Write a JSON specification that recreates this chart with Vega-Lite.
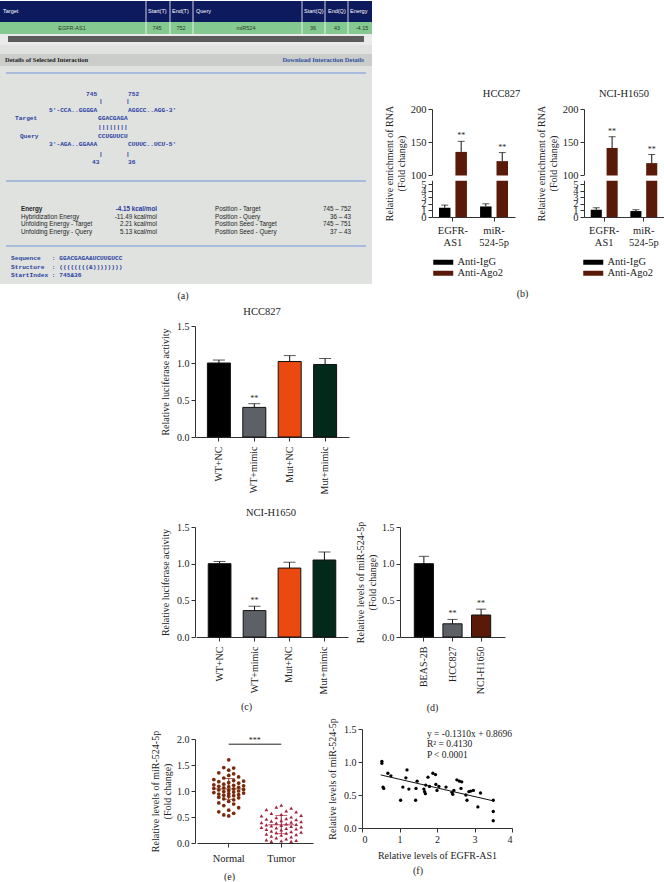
{
"$schema": "https://vega.github.io/schema/vega-lite/v6.json",
"padding": 0,
"background": "white",
"columns": 8,
"align": "each",
"bounds": "flush",
"spacing": 0,
"resolve": {"scale": {"color": "independent", "shape": "independent", "xOffset": "independent"}},
"config": {
  "view": {"stroke": null},
  "font": "Liberation Serif",
  "axis": {"labelFont": "Liberation Serif", "titleFont": "Liberation Serif", "labelFontSize": 10, "titleFontSize": 10, "titleFontWeight": "normal", "labelColor": "#222", "titleColor": "#222", "domainColor": "#333", "tickColor": "#333", "grid": false, "tickSize": 4},
  "title": {"font": "Liberation Serif", "fontSize": 10.5, "fontWeight": "normal", "color": "#222"},
  "legend": {"labelFont": "Liberation Serif", "labelFontSize": 10.5, "labelColor": "#222"}
},
"datasets": {
  "arect": [
    {"k": "bg", "x": 0, "x2": 372, "y": 0, "y2": 283},
    {"k": "hdr", "x": 0, "x2": 372, "y": 0, "y2": 21},
    {"k": "grn", "x": 0, "x2": 372, "y": 21, "y2": 33},
    {"k": "trk", "x": 0, "x2": 372, "y": 33, "y2": 44},
    {"k": "bar", "x": 8, "x2": 364, "y": 35, "y2": 41},
    {"k": "det", "x": 0, "x2": 372, "y": 53, "y2": 65}
  ],
  "ablue": [
    {"x": 6, "x2": 366, "y": 72, "y2": 72},
    {"x": 6, "x2": 366, "y": 180, "y2": 180},
    {"x": 6, "x2": 366, "y": 245, "y2": 245}
  ],
  "awhite": [
    {"x": 146, "x2": 146, "y": 0, "y2": 33},
    {"x": 170, "x2": 170, "y": 0, "y2": 33},
    {"x": 193, "x2": 193, "y": 0, "y2": 33},
    {"x": 302, "x2": 302, "y": 0, "y2": 33},
    {"x": 325, "x2": 325, "y": 0, "y2": 33},
    {"x": 348, "x2": 348, "y": 0, "y2": 33}
  ],
  "atext": [
    {"k": "hd", "t": "Target", "x": 3, "y": 10},
    {"k": "hd", "t": "Start(T)", "x": 148, "y": 10},
    {"k": "hd", "t": "End(T)", "x": 172, "y": 10},
    {"k": "hd", "t": "Query", "x": 196, "y": 10},
    {"k": "hd", "t": "Start(Q)", "x": 304, "y": 10},
    {"k": "hd", "t": "End(Q)", "x": 328, "y": 10},
    {"k": "hd", "t": "Energy", "x": 350, "y": 10},
    {"k": "rw", "t": "EGFR-AS1", "x": 72, "y": 27},
    {"k": "rw", "t": "745", "x": 157, "y": 27},
    {"k": "rw", "t": "752", "x": 181, "y": 27},
    {"k": "rw", "t": "miR524", "x": 246, "y": 27},
    {"k": "rw", "t": "36", "x": 313, "y": 27},
    {"k": "rw", "t": "43", "x": 337, "y": 27},
    {"k": "rw", "t": "-4.15", "x": 362, "y": 27},
    {"k": "dt", "t": "Details of Selected Interaction", "x": 5, "y": 59},
    {"k": "dl", "t": "Download Interaction Details", "x": 364, "y": 59},
    {"k": "mo", "t": "745", "x": 86, "y": 93},
    {"k": "mo", "t": "752", "x": 128, "y": 93},
    {"k": "mo", "t": "|", "x": 99, "y": 100},
    {"k": "mo", "t": "|", "x": 126, "y": 100},
    {"k": "mo", "t": "5'-CCA..GGGGA", "x": 49, "y": 109},
    {"k": "mo", "t": "AGGCC..AGG-3'", "x": 128, "y": 109},
    {"k": "mo", "t": "Target", "x": 15, "y": 117},
    {"k": "mo", "t": "GGACGAGA", "x": 98, "y": 117},
    {"k": "mo", "t": "||||||||", "x": 98, "y": 126},
    {"k": "mo", "t": "Query", "x": 20, "y": 135},
    {"k": "mo", "t": "CCUGUUCU", "x": 98, "y": 135},
    {"k": "mo", "t": "3'-AGA..GGAAA", "x": 49, "y": 143},
    {"k": "mo", "t": "CUUUC..UCU-5'", "x": 128, "y": 143},
    {"k": "mo", "t": "|", "x": 99, "y": 153},
    {"k": "mo", "t": "|", "x": 126, "y": 153},
    {"k": "mo", "t": "43", "x": 92, "y": 161},
    {"k": "mo", "t": "36", "x": 128, "y": 161},
    {"k": "mo", "t": "Sequence\u00a0\u00a0\u00a0: GGACGAGA&UCUUGUCC", "x": 11, "y": 257},
    {"k": "mo", "t": "Structure\u00a0\u00a0: ((((((((&))))))))", "x": 11, "y": 266},
    {"k": "mo", "t": "StartIndex : 745&36", "x": 11, "y": 274},
    {"k": "tlb", "t": "Energy", "x": 21, "y": 208},
    {"k": "tl", "t": "Hybridization Energy", "x": 21, "y": 216},
    {"k": "tl", "t": "Unfolding Energy - Target", "x": 21, "y": 223},
    {"k": "tl", "t": "Unfolding Energy - Query", "x": 21, "y": 231},
    {"k": "tl", "t": "Position - Target", "x": 215, "y": 208},
    {"k": "tl", "t": "Position - Query", "x": 215, "y": 216},
    {"k": "tl", "t": "Position Seed - Target", "x": 215, "y": 223},
    {"k": "tl", "t": "Position Seed - Query", "x": 215, "y": 231},
    {"k": "trb", "t": "-4.15 kcal/mol", "x": 157, "y": 208},
    {"k": "tr", "t": "-11.49 kcal/mol", "x": 157, "y": 216},
    {"k": "tr", "t": "2.21 kcal/mol", "x": 157, "y": 223},
    {"k": "tr", "t": "5.13 kcal/mol", "x": 157, "y": 231},
    {"k": "tr", "t": "745 – 752", "x": 351, "y": 208},
    {"k": "tr", "t": "36 – 43", "x": 351, "y": 216},
    {"k": "tr", "t": "745 – 751", "x": 351, "y": 223},
    {"k": "tr", "t": "37 – 43", "x": 351, "y": 231},
    {"k": "lab", "t": "(a)", "x": 183, "y": 295}
  ],
  "bh": [
    {"t": "EGFR-AS1", "ab": "Anti-IgG", "m": 1.4, "e": 1.8, "s": ""},
    {"t": "EGFR-AS1", "ab": "Anti-Ago2", "m": 135, "e": 151, "s": "**"},
    {"t": "miR-524-5p", "ab": "Anti-IgG", "m": 1.6, "e": 2.0, "s": ""},
    {"t": "miR-524-5p", "ab": "Anti-Ago2", "m": 121, "e": 134, "s": "**"}
  ],
  "bn": [
    {"t": "EGFR-AS1", "ab": "Anti-IgG", "m": 1.1, "e": 1.4, "s": ""},
    {"t": "EGFR-AS1", "ab": "Anti-Ago2", "m": 141, "e": 158, "s": "**"},
    {"t": "miR-524-5p", "ab": "Anti-IgG", "m": 0.9, "e": 1.1, "s": ""},
    {"t": "miR-524-5p", "ab": "Anti-Ago2", "m": 118, "e": 131, "s": "**"}
  ],
  "brk": [{"lo": 40, "hi": 95}],
  "ch": [
    {"g": "WT+NC", "m": 1.0, "e": 1.04, "s": ""},
    {"g": "WT+mimic", "m": 0.40, "e": 0.45, "s": "**"},
    {"g": "Mut+NC", "m": 1.02, "e": 1.10, "s": ""},
    {"g": "Mut+mimic", "m": 0.98, "e": 1.06, "s": ""}
  ],
  "cn": [
    {"g": "WT+NC", "m": 1.0, "e": 1.03, "s": ""},
    {"g": "WT+mimic", "m": 0.36, "e": 0.42, "s": "**"},
    {"g": "Mut+NC", "m": 0.94, "e": 1.02, "s": ""},
    {"g": "Mut+mimic", "m": 1.05, "e": 1.16, "s": ""}
  ],
  "dd": [
    {"g": "BEAS-2B", "m": 1.0, "e": 1.1, "s": ""},
    {"g": "HCC827", "m": 0.18, "e": 0.24, "s": "**"},
    {"g": "NCI-H1650", "m": 0.30, "e": 0.38, "s": "**"}
  ],
  "ep": [
    {"g": "Normal", "v": 1.60, "k": 0}, {"g": "Normal", "v": 1.45, "k": -1}, {"g": "Normal", "v": 1.44, "k": 1},
    {"g": "Normal", "v": 1.40, "k": 0}, {"g": "Normal", "v": 1.35, "k": -2}, {"g": "Normal", "v": 1.33, "k": 1},
    {"g": "Normal", "v": 1.30, "k": 0}, {"g": "Normal", "v": 1.27, "k": 2}, {"g": "Normal", "v": 1.25, "k": -1},
    {"g": "Normal", "v": 1.22, "k": -3}, {"g": "Normal", "v": 1.20, "k": 1}, {"g": "Normal", "v": 1.19, "k": 3},
    {"g": "Normal", "v": 1.18, "k": -2}, {"g": "Normal", "v": 1.16, "k": 0}, {"g": "Normal", "v": 1.15, "k": 2},
    {"g": "Normal", "v": 1.13, "k": -1}, {"g": "Normal", "v": 1.12, "k": -3}, {"g": "Normal", "v": 1.11, "k": 1},
    {"g": "Normal", "v": 1.10, "k": 3}, {"g": "Normal", "v": 1.09, "k": -2}, {"g": "Normal", "v": 1.08, "k": 0},
    {"g": "Normal", "v": 1.07, "k": 2}, {"g": "Normal", "v": 1.06, "k": -1}, {"g": "Normal", "v": 1.05, "k": -3},
    {"g": "Normal", "v": 1.04, "k": 1}, {"g": "Normal", "v": 1.03, "k": 3}, {"g": "Normal", "v": 1.02, "k": -2},
    {"g": "Normal", "v": 1.01, "k": 0}, {"g": "Normal", "v": 1.00, "k": 2}, {"g": "Normal", "v": 0.99, "k": -1},
    {"g": "Normal", "v": 0.98, "k": 1}, {"g": "Normal", "v": 0.97, "k": -3}, {"g": "Normal", "v": 0.96, "k": 3},
    {"g": "Normal", "v": 0.95, "k": 0}, {"g": "Normal", "v": 0.94, "k": -2}, {"g": "Normal", "v": 0.93, "k": 2},
    {"g": "Normal", "v": 0.92, "k": -1}, {"g": "Normal", "v": 0.91, "k": 1}, {"g": "Normal", "v": 0.90, "k": 0},
    {"g": "Normal", "v": 0.88, "k": -2}, {"g": "Normal", "v": 0.87, "k": 2}, {"g": "Normal", "v": 0.85, "k": -1},
    {"g": "Normal", "v": 0.83, "k": 1}, {"g": "Normal", "v": 0.80, "k": 0}, {"g": "Normal", "v": 0.77, "k": -2},
    {"g": "Normal", "v": 0.75, "k": 1}, {"g": "Normal", "v": 0.72, "k": -1}, {"g": "Normal", "v": 0.68, "k": 2},
    {"g": "Normal", "v": 0.63, "k": 0}, {"g": "Normal", "v": 0.60, "k": -2}, {"g": "Normal", "v": 0.57, "k": 1},
    {"g": "Normal", "v": 0.54, "k": -1}, {"g": "Normal", "v": 0.52, "k": 0},
    {"g": "Tumor", "v": 0.73, "k": 0}, {"g": "Tumor", "v": 0.69, "k": -1}, {"g": "Tumor", "v": 0.67, "k": 2},
    {"g": "Tumor", "v": 0.64, "k": -3}, {"g": "Tumor", "v": 0.62, "k": 1}, {"g": "Tumor", "v": 0.60, "k": 3},
    {"g": "Tumor", "v": 0.57, "k": -2}, {"g": "Tumor", "v": 0.55, "k": 0}, {"g": "Tumor", "v": 0.53, "k": 4},
    {"g": "Tumor", "v": 0.52, "k": -4}, {"g": "Tumor", "v": 0.50, "k": 2}, {"g": "Tumor", "v": 0.49, "k": -1},
    {"g": "Tumor", "v": 0.47, "k": 1}, {"g": "Tumor", "v": 0.46, "k": -3}, {"g": "Tumor", "v": 0.45, "k": 3},
    {"g": "Tumor", "v": 0.43, "k": 0}, {"g": "Tumor", "v": 0.42, "k": -2}, {"g": "Tumor", "v": 0.41, "k": 4},
    {"g": "Tumor", "v": 0.40, "k": 2}, {"g": "Tumor", "v": 0.39, "k": -4}, {"g": "Tumor", "v": 0.38, "k": -1},
    {"g": "Tumor", "v": 0.37, "k": 1}, {"g": "Tumor", "v": 0.36, "k": 3}, {"g": "Tumor", "v": 0.35, "k": -3},
    {"g": "Tumor", "v": 0.34, "k": 0}, {"g": "Tumor", "v": 0.33, "k": -2}, {"g": "Tumor", "v": 0.32, "k": 2},
    {"g": "Tumor", "v": 0.31, "k": 4}, {"g": "Tumor", "v": 0.30, "k": -4}, {"g": "Tumor", "v": 0.29, "k": -1},
    {"g": "Tumor", "v": 0.28, "k": 1}, {"g": "Tumor", "v": 0.27, "k": 3}, {"g": "Tumor", "v": 0.26, "k": -3},
    {"g": "Tumor", "v": 0.25, "k": 0}, {"g": "Tumor", "v": 0.23, "k": -2}, {"g": "Tumor", "v": 0.22, "k": 2},
    {"g": "Tumor", "v": 0.21, "k": 4}, {"g": "Tumor", "v": 0.20, "k": -1}, {"g": "Tumor", "v": 0.19, "k": 1},
    {"g": "Tumor", "v": 0.17, "k": -3}, {"g": "Tumor", "v": 0.16, "k": 3}, {"g": "Tumor", "v": 0.15, "k": 0},
    {"g": "Tumor", "v": 0.13, "k": -2}, {"g": "Tumor", "v": 0.12, "k": 2}, {"g": "Tumor", "v": 0.10, "k": -1},
    {"g": "Tumor", "v": 0.08, "k": 1}, {"g": "Tumor", "v": 0.06, "k": -3}, {"g": "Tumor", "v": 0.05, "k": 3},
    {"g": "Tumor", "v": 0.04, "k": 0}, {"g": "Tumor", "v": 0.03, "k": -2}, {"g": "Tumor", "v": 0.03, "k": 2}
  ],
  "es": [
    {"g": "Normal", "m": 1.04, "lo": 0.84, "hi": 1.24},
    {"g": "Tumor", "m": 0.35, "lo": 0.18, "hi": 0.53}
  ],
  "esig": [{"a": "Normal", "b": "Tumor", "y": 1.9, "ty": 1.96, "t": "***"}],
  "fp": [
    {"x": 0.53, "y": 1.01}, {"x": 0.53, "y": 0.98}, {"x": 0.56, "y": 0.62}, {"x": 0.58, "y": 0.60},
    {"x": 0.69, "y": 0.83}, {"x": 0.77, "y": 0.79}, {"x": 1.03, "y": 0.42}, {"x": 1.09, "y": 0.62},
    {"x": 1.17, "y": 0.76}, {"x": 1.20, "y": 0.88}, {"x": 1.25, "y": 0.59}, {"x": 1.43, "y": 0.42},
    {"x": 1.44, "y": 0.60}, {"x": 1.47, "y": 0.71}, {"x": 1.65, "y": 0.59}, {"x": 1.67, "y": 0.55},
    {"x": 1.69, "y": 0.52}, {"x": 1.70, "y": 0.65}, {"x": 1.76, "y": 0.77}, {"x": 1.80, "y": 0.63},
    {"x": 1.89, "y": 0.83}, {"x": 1.96, "y": 0.81}, {"x": 1.97, "y": 0.66}, {"x": 2.00, "y": 0.57},
    {"x": 2.05, "y": 0.63}, {"x": 2.24, "y": 0.62}, {"x": 2.40, "y": 0.54}, {"x": 2.42, "y": 0.51},
    {"x": 2.45, "y": 0.57}, {"x": 2.53, "y": 0.73}, {"x": 2.60, "y": 0.71}, {"x": 2.66, "y": 0.70},
    {"x": 2.64, "y": 0.60}, {"x": 2.77, "y": 0.50}, {"x": 2.80, "y": 0.42}, {"x": 2.85, "y": 0.55},
    {"x": 2.90, "y": 0.56}, {"x": 2.97, "y": 0.57}, {"x": 3.09, "y": 0.32}, {"x": 3.16, "y": 0.53},
    {"x": 3.50, "y": 0.42}, {"x": 3.50, "y": 0.25}, {"x": 3.50, "y": 0.11}
  ],
  "fl": [{"x": 0.5, "y": 0.804}, {"x": 3.5, "y": 0.411}],
  "ft": [
    {"x": 1.73, "y": 1.42, "t": "y = -0.1310x + 0.8696", "i": "n"},
    {"x": 1.73, "y": 1.27, "t": "R² = 0.4130", "i": "n"},
    {"x": 1.73, "y": 1.10, "t": "P", "i": "i"},
    {"x": 1.92, "y": 1.10, "t": "< 0.0001", "i": "n"}
  ]
},
"concat": [
  {
    "width": 195, "height": 108,
    "layer": [
      {"data": {"name": "arect"}, "mark": {"type": "rect"},
       "encoding": {
         "x": {"field": "x", "type": "quantitative", "scale": {"domain": [0, 372], "range": [0, 372], "nice": false, "zero": false}, "axis": null},
         "x2": {"field": "x2"},
         "y": {"field": "y", "type": "quantitative", "scale": {"domain": [0, 300], "range": [0, 300], "nice": false, "zero": false}, "axis": null},
         "y2": {"field": "y2"},
         "color": {"field": "k", "type": "nominal", "scale": {"domain": ["bg", "hdr", "grn", "trk", "bar", "det"], "range": ["#dfe2de", "#0d1a5e", "#84c98f", "#e9eae9", "#5c5c5c", "#cbcdca"]}, "legend": null}
       }},
      {"data": {"name": "ablue"}, "mark": {"type": "rule", "color": "#7093da", "strokeWidth": 1},
       "encoding": {
         "x": {"field": "x", "type": "quantitative", "scale": {"domain": [0, 372], "range": [0, 372], "nice": false, "zero": false}, "axis": null},
         "x2": {"field": "x2"},
         "y": {"field": "y", "type": "quantitative", "scale": {"domain": [0, 300], "range": [0, 300], "nice": false, "zero": false}, "axis": null},
         "y2": {"field": "y2"}
       }},
      {"data": {"name": "awhite"}, "mark": {"type": "rule", "color": "#ffffff", "strokeWidth": 0.8},
       "encoding": {
         "x": {"field": "x", "type": "quantitative", "scale": {"domain": [0, 372], "range": [0, 372], "nice": false, "zero": false}, "axis": null},
         "x2": {"field": "x2"},
         "y": {"field": "y", "type": "quantitative", "scale": {"domain": [0, 300], "range": [0, 300], "nice": false, "zero": false}, "axis": null},
         "y2": {"field": "y2"}
       }},
      {"data": {"name": "atext"}, "transform": [{"filter": "datum.k == 'hd'"}],
       "mark": {"type": "text", "font": "Liberation Sans", "fontSize": 5.5, "color": "#ffffff", "align": "left", "baseline": "middle"},
       "encoding": {"x": {"field": "x", "type": "quantitative", "scale": {"domain": [0, 372], "range": [0, 372], "nice": false, "zero": false}, "axis": null}, "y": {"field": "y", "type": "quantitative", "scale": {"domain": [0, 300], "range": [0, 300], "nice": false, "zero": false}, "axis": null}, "text": {"field": "t"}}},
      {"data": {"name": "atext"}, "transform": [{"filter": "datum.k == 'rw'"}],
       "mark": {"type": "text", "font": "Liberation Sans", "fontSize": 5.5, "color": "#2a3a2a", "align": "center", "baseline": "middle"},
       "encoding": {"x": {"field": "x", "type": "quantitative", "scale": {"domain": [0, 372], "range": [0, 372], "nice": false, "zero": false}, "axis": null}, "y": {"field": "y", "type": "quantitative", "scale": {"domain": [0, 300], "range": [0, 300], "nice": false, "zero": false}, "axis": null}, "text": {"field": "t"}}},
      {"data": {"name": "atext"}, "transform": [{"filter": "datum.k == 'dt'"}],
       "mark": {"type": "text", "font": "Liberation Serif", "fontSize": 6.5, "fontWeight": "bold", "color": "#1e1e1e", "align": "left", "baseline": "middle"},
       "encoding": {"x": {"field": "x", "type": "quantitative", "scale": {"domain": [0, 372], "range": [0, 372], "nice": false, "zero": false}, "axis": null}, "y": {"field": "y", "type": "quantitative", "scale": {"domain": [0, 300], "range": [0, 300], "nice": false, "zero": false}, "axis": null}, "text": {"field": "t"}}},
      {"data": {"name": "atext"}, "transform": [{"filter": "datum.k == 'dl'"}],
       "mark": {"type": "text", "font": "Liberation Serif", "fontSize": 6.5, "fontWeight": "bold", "color": "#2e4f9e", "align": "right", "baseline": "middle"},
       "encoding": {"x": {"field": "x", "type": "quantitative", "scale": {"domain": [0, 372], "range": [0, 372], "nice": false, "zero": false}, "axis": null}, "y": {"field": "y", "type": "quantitative", "scale": {"domain": [0, 300], "range": [0, 300], "nice": false, "zero": false}, "axis": null}, "text": {"field": "t"}}},
      {"data": {"name": "atext"}, "transform": [{"filter": "datum.k == 'mo'"}],
       "mark": {"type": "text", "font": "Liberation Mono", "fontSize": 6.2, "fontWeight": "bold", "color": "#2b3fa3", "align": "left", "baseline": "middle"},
       "encoding": {"x": {"field": "x", "type": "quantitative", "scale": {"domain": [0, 372], "range": [0, 372], "nice": false, "zero": false}, "axis": null}, "y": {"field": "y", "type": "quantitative", "scale": {"domain": [0, 300], "range": [0, 300], "nice": false, "zero": false}, "axis": null}, "text": {"field": "t"}}},
      {"data": {"name": "atext"}, "transform": [{"filter": "datum.k == 'tlb'"}],
       "mark": {"type": "text", "font": "Liberation Sans", "fontSize": 6.3, "fontWeight": "bold", "color": "#1e1e1e", "align": "left", "baseline": "middle"},
       "encoding": {"x": {"field": "x", "type": "quantitative", "scale": {"domain": [0, 372], "range": [0, 372], "nice": false, "zero": false}, "axis": null}, "y": {"field": "y", "type": "quantitative", "scale": {"domain": [0, 300], "range": [0, 300], "nice": false, "zero": false}, "axis": null}, "text": {"field": "t"}}},
      {"data": {"name": "atext"}, "transform": [{"filter": "datum.k == 'tl'"}],
       "mark": {"type": "text", "font": "Liberation Sans", "fontSize": 6.3, "color": "#1e1e1e", "align": "left", "baseline": "middle"},
       "encoding": {"x": {"field": "x", "type": "quantitative", "scale": {"domain": [0, 372], "range": [0, 372], "nice": false, "zero": false}, "axis": null}, "y": {"field": "y", "type": "quantitative", "scale": {"domain": [0, 300], "range": [0, 300], "nice": false, "zero": false}, "axis": null}, "text": {"field": "t"}}},
      {"data": {"name": "atext"}, "transform": [{"filter": "datum.k == 'trb'"}],
       "mark": {"type": "text", "font": "Liberation Sans", "fontSize": 6.3, "fontWeight": "bold", "color": "#1f3aa0", "align": "right", "baseline": "middle"},
       "encoding": {"x": {"field": "x", "type": "quantitative", "scale": {"domain": [0, 372], "range": [0, 372], "nice": false, "zero": false}, "axis": null}, "y": {"field": "y", "type": "quantitative", "scale": {"domain": [0, 300], "range": [0, 300], "nice": false, "zero": false}, "axis": null}, "text": {"field": "t"}}},
      {"data": {"name": "atext"}, "transform": [{"filter": "datum.k == 'tr'"}],
       "mark": {"type": "text", "font": "Liberation Sans", "fontSize": 6.3, "color": "#1e1e1e", "align": "right", "baseline": "middle"},
       "encoding": {"x": {"field": "x", "type": "quantitative", "scale": {"domain": [0, 372], "range": [0, 372], "nice": false, "zero": false}, "axis": null}, "y": {"field": "y", "type": "quantitative", "scale": {"domain": [0, 300], "range": [0, 300], "nice": false, "zero": false}, "axis": null}, "text": {"field": "t"}}},
      {"data": {"name": "atext"}, "transform": [{"filter": "datum.k == 'lab'"}],
       "mark": {"type": "text", "font": "Liberation Serif", "fontSize": 10, "color": "#222", "align": "center", "baseline": "middle"},
       "encoding": {"x": {"field": "x", "type": "quantitative", "scale": {"domain": [0, 372], "range": [0, 372], "nice": false, "zero": false}, "axis": null}, "y": {"field": "y", "type": "quantitative", "scale": {"domain": [0, 300], "range": [0, 300], "nice": false, "zero": false}, "axis": null}, "text": {"field": "t"}}}
    ]
  },
  {"width": 1, "height": 1, "data": {"values": []}, "mark": "point", "encoding": {}},
  {"width": 13, "height": 1, "data": {"values": []}, "mark": "point", "encoding": {}},
  {"width": 1, "height": 1, "data": {"values": []}, "mark": "point", "encoding": {}},
  {"width": 1, "height": 1, "data": {"values": []}, "mark": "point", "encoding": {}},
  {"width": 1, "height": 108, "data": {"values": []}, "mark": "point", "encoding": {}},
  {"width": 69, "height": 1, "data": {"values": []}, "mark": "point", "encoding": {}},
  {"width": 1, "height": 1, "data": {"values": []}, "mark": "point", "encoding": {}},

  {"width": 1, "height": 217, "data": {"values": []}, "mark": "point", "encoding": {}},
  {"width": 1, "height": 1, "data": {"values": []}, "mark": "point", "encoding": {}},
  {"width": 1, "height": 1, "data": {"values": []}, "mark": "point", "encoding": {}},
  {"width": 1, "height": 1, "data": {"values": []}, "mark": "point", "encoding": {}},
  {"width": 1, "height": 1, "data": {"values": []}, "mark": "point", "encoding": {}},
  {
    "width": 83, "height": 108,
    "title": {"text": "HCC827", "offset": 5, "dx": 28},
    "data": {"name": "bh"},
    "layer": [
      {"mark": {"type": "bar"},
       "encoding": {
         "x": {"field": "t", "type": "nominal", "sort": ["EGFR-AS1", "miR-524-5p"], "scale": {"paddingInner": 0.32, "paddingOuter": 0.17}, "axis": {"title": null, "labelAngle": 0, "labelExpr": "datum.value == 'EGFR-AS1' ? ['EGFR-','AS1'] : ['miR-','524-5p']", "labelFontSize": 10.5, "labelPadding": 4, "labelLineHeight": 12}},
         "xOffset": {"field": "ab", "type": "nominal", "sort": ["Anti-IgG", "Anti-Ago2"], "scale": {"paddingInner": 0.3}},
         "y": {"field": "m", "type": "quantitative", "scale": {"domain": [0, 5, 100, 200], "range": [108, 75, 66, 0], "nice": false, "zero": false}, "axis": {"values": [0, 1, 2, 3, 4, 5, 100, 150, 200], "labelOverlap": false, "title": ["Relative enrichment of RNA", "(Fold change)"], "titlePadding": 4, "labelFontSize": 10.5}},
         "color": {"field": "ab", "type": "nominal", "sort": ["Anti-IgG", "Anti-Ago2"], "scale": {"domain": ["Anti-IgG", "Anti-Ago2"], "range": ["#000000", "#5a1a09"]}, "legend": {"orient": "none", "legendX": 6, "legendY": 148, "direction": "vertical", "title": null, "symbolType": "M-2,-0.5L2,-0.5L2,0.5L-2,0.5Z", "symbolSize": 100, "symbolStrokeWidth": 0, "labelFontSize": 10.5, "rowPadding": 0, "labelOffset": 9}}
       }},
      {"data": {"name": "brk"}, "mark": {"type": "rect", "color": "white"},
       "encoding": {
         "y": {"field": "lo", "type": "quantitative", "scale": {"domain": [0, 5, 100, 200], "range": [108, 75, 66, 0], "nice": false, "zero": false}, "axis": {"values": [0, 1, 2, 3, 4, 5, 100, 150, 200], "labelOverlap": false, "title": ["Relative enrichment of RNA", "(Fold change)"], "titlePadding": 4, "labelFontSize": 10.5}},
         "y2": {"field": "hi"}
       }},
      {"mark": {"type": "rule", "color": "#111", "strokeWidth": 1},
       "encoding": {
         "x": {"field": "t", "type": "nominal", "sort": ["EGFR-AS1", "miR-524-5p"], "scale": {"paddingInner": 0.32, "paddingOuter": 0.17}, "axis": {"title": null, "labelAngle": 0, "labelExpr": "datum.value == 'EGFR-AS1' ? ['EGFR-','AS1'] : ['miR-','524-5p']", "labelFontSize": 10.5, "labelPadding": 4, "labelLineHeight": 12}},
         "xOffset": {"field": "ab", "type": "nominal", "sort": ["Anti-IgG", "Anti-Ago2"], "scale": {"paddingInner": 0.3}},
         "y": {"field": "m", "type": "quantitative", "scale": {"domain": [0, 5, 100, 200], "range": [108, 75, 66, 0], "nice": false, "zero": false}, "axis": {"values": [0, 1, 2, 3, 4, 5, 100, 150, 200], "labelOverlap": false, "title": ["Relative enrichment of RNA", "(Fold change)"], "titlePadding": 4, "labelFontSize": 10.5}},
         "y2": {"field": "e"}
       }},
      {"mark": {"type": "tick", "color": "#111", "size": 7, "thickness": 1},
       "encoding": {
         "x": {"field": "t", "type": "nominal", "sort": ["EGFR-AS1", "miR-524-5p"], "scale": {"paddingInner": 0.32, "paddingOuter": 0.17}, "axis": {"title": null, "labelAngle": 0, "labelExpr": "datum.value == 'EGFR-AS1' ? ['EGFR-','AS1'] : ['miR-','524-5p']", "labelFontSize": 10.5, "labelPadding": 4, "labelLineHeight": 12}},
         "xOffset": {"field": "ab", "type": "nominal", "sort": ["Anti-IgG", "Anti-Ago2"], "scale": {"paddingInner": 0.3}},
         "y": {"field": "e", "type": "quantitative", "scale": {"domain": [0, 5, 100, 200], "range": [108, 75, 66, 0], "nice": false, "zero": false}, "axis": {"values": [0, 1, 2, 3, 4, 5, 100, 150, 200], "labelOverlap": false, "title": ["Relative enrichment of RNA", "(Fold change)"], "titlePadding": 4, "labelFontSize": 10.5}}
       }},
      {"mark": {"type": "text", "fontSize": 8, "dy": -5, "color": "#222"},
       "encoding": {
         "x": {"field": "t", "type": "nominal", "sort": ["EGFR-AS1", "miR-524-5p"], "scale": {"paddingInner": 0.32, "paddingOuter": 0.17}, "axis": {"title": null, "labelAngle": 0, "labelExpr": "datum.value == 'EGFR-AS1' ? ['EGFR-','AS1'] : ['miR-','524-5p']", "labelFontSize": 10.5, "labelPadding": 4, "labelLineHeight": 12}},
         "xOffset": {"field": "ab", "type": "nominal", "sort": ["Anti-IgG", "Anti-Ago2"], "scale": {"paddingInner": 0.3}},
         "y": {"field": "e", "type": "quantitative", "scale": {"domain": [0, 5, 100, 200], "range": [108, 75, 66, 0], "nice": false, "zero": false}, "axis": {"values": [0, 1, 2, 3, 4, 5, 100, 150, 200], "labelOverlap": false, "title": ["Relative enrichment of RNA", "(Fold change)"], "titlePadding": 4, "labelFontSize": 10.5}},
         "text": {"field": "s"}
       }}
    ]
  },
  {"width": 1, "height": 1, "data": {"values": []}, "mark": "point", "encoding": {}},
  {
    "width": 80, "height": 108,
    "title": {"text": "NCI-H1650", "offset": 5},
    "data": {"name": "bn"},
    "layer": [
      {"mark": {"type": "bar"},
       "encoding": {
         "x": {"field": "t", "type": "nominal", "sort": ["EGFR-AS1", "miR-524-5p"], "scale": {"paddingInner": 0.32, "paddingOuter": 0.17}, "axis": {"title": "(b)", "titleX": -62, "titleY": 71, "titleFontSize": 10, "labelAngle": 0, "labelExpr": "datum.value == 'EGFR-AS1' ? ['EGFR-','AS1'] : ['miR-','524-5p']", "labelFontSize": 10.5, "labelPadding": 4, "labelLineHeight": 12}},
         "xOffset": {"field": "ab", "type": "nominal", "sort": ["Anti-IgG", "Anti-Ago2"], "scale": {"paddingInner": 0.3}},
         "y": {"field": "m", "type": "quantitative", "scale": {"domain": [0, 5, 100, 200], "range": [108, 75, 66, 0], "nice": false, "zero": false}, "axis": {"values": [0, 1, 2, 3, 4, 5, 100, 150, 200], "labelOverlap": false, "title": ["Relative enrichment of RNA", "(Fold change)"], "titlePadding": 4, "labelFontSize": 10.5}},
         "color": {"field": "ab", "type": "nominal", "sort": ["Anti-IgG", "Anti-Ago2"], "scale": {"domain": ["Anti-IgG", "Anti-Ago2"], "range": ["#000000", "#5a1a09"]}, "legend": {"orient": "none", "legendX": 4, "legendY": 148, "direction": "vertical", "title": null, "symbolType": "M-2,-0.5L2,-0.5L2,0.5L-2,0.5Z", "symbolSize": 100, "symbolStrokeWidth": 0, "labelFontSize": 10.5, "rowPadding": 0, "labelOffset": 9}}
       }},
      {"data": {"name": "brk"}, "mark": {"type": "rect", "color": "white"},
       "encoding": {
         "y": {"field": "lo", "type": "quantitative", "scale": {"domain": [0, 5, 100, 200], "range": [108, 75, 66, 0], "nice": false, "zero": false}, "axis": {"values": [0, 1, 2, 3, 4, 5, 100, 150, 200], "labelOverlap": false, "title": ["Relative enrichment of RNA", "(Fold change)"], "titlePadding": 4, "labelFontSize": 10.5}},
         "y2": {"field": "hi"}
       }},
      {"mark": {"type": "rule", "color": "#111", "strokeWidth": 1},
       "encoding": {
         "x": {"field": "t", "type": "nominal", "sort": ["EGFR-AS1", "miR-524-5p"], "scale": {"paddingInner": 0.32, "paddingOuter": 0.17}, "axis": {"title": "(b)", "titleX": -62, "titleY": 71, "titleFontSize": 10, "labelAngle": 0, "labelExpr": "datum.value == 'EGFR-AS1' ? ['EGFR-','AS1'] : ['miR-','524-5p']", "labelFontSize": 10.5, "labelPadding": 4, "labelLineHeight": 12}},
         "xOffset": {"field": "ab", "type": "nominal", "sort": ["Anti-IgG", "Anti-Ago2"], "scale": {"paddingInner": 0.3}},
         "y": {"field": "m", "type": "quantitative", "scale": {"domain": [0, 5, 100, 200], "range": [108, 75, 66, 0], "nice": false, "zero": false}, "axis": {"values": [0, 1, 2, 3, 4, 5, 100, 150, 200], "labelOverlap": false, "title": ["Relative enrichment of RNA", "(Fold change)"], "titlePadding": 4, "labelFontSize": 10.5}},
         "y2": {"field": "e"}
       }},
      {"mark": {"type": "tick", "color": "#111", "size": 7, "thickness": 1},
       "encoding": {
         "x": {"field": "t", "type": "nominal", "sort": ["EGFR-AS1", "miR-524-5p"], "scale": {"paddingInner": 0.32, "paddingOuter": 0.17}, "axis": {"title": "(b)", "titleX": -62, "titleY": 71, "titleFontSize": 10, "labelAngle": 0, "labelExpr": "datum.value == 'EGFR-AS1' ? ['EGFR-','AS1'] : ['miR-','524-5p']", "labelFontSize": 10.5, "labelPadding": 4, "labelLineHeight": 12}},
         "xOffset": {"field": "ab", "type": "nominal", "sort": ["Anti-IgG", "Anti-Ago2"], "scale": {"paddingInner": 0.3}},
         "y": {"field": "e", "type": "quantitative", "scale": {"domain": [0, 5, 100, 200], "range": [108, 75, 66, 0], "nice": false, "zero": false}, "axis": {"values": [0, 1, 2, 3, 4, 5, 100, 150, 200], "labelOverlap": false, "title": ["Relative enrichment of RNA", "(Fold change)"], "titlePadding": 4, "labelFontSize": 10.5}}
       }},
      {"mark": {"type": "text", "fontSize": 8, "dy": -5, "color": "#222"},
       "encoding": {
         "x": {"field": "t", "type": "nominal", "sort": ["EGFR-AS1", "miR-524-5p"], "scale": {"paddingInner": 0.32, "paddingOuter": 0.17}, "axis": {"title": "(b)", "titleX": -62, "titleY": 71, "titleFontSize": 10, "labelAngle": 0, "labelExpr": "datum.value == 'EGFR-AS1' ? ['EGFR-','AS1'] : ['miR-','524-5p']", "labelFontSize": 10.5, "labelPadding": 4, "labelLineHeight": 12}},
         "xOffset": {"field": "ab", "type": "nominal", "sort": ["Anti-IgG", "Anti-Ago2"], "scale": {"paddingInner": 0.3}},
         "y": {"field": "e", "type": "quantitative", "scale": {"domain": [0, 5, 100, 200], "range": [108, 75, 66, 0], "nice": false, "zero": false}, "axis": {"values": [0, 1, 2, 3, 4, 5, 100, 150, 200], "labelOverlap": false, "title": ["Relative enrichment of RNA", "(Fold change)"], "titlePadding": 4, "labelFontSize": 10.5}},
         "text": {"field": "s"}
       }}
    ]
  },

  {"width": 1, "height": 201, "data": {"values": []}, "mark": "point", "encoding": {}},
  {
    "width": 154, "height": 111,
    "title": {"text": "HCC827", "offset": 4, "dx": -10},
    "data": {"name": "ch"},
    "encoding": {
      "x": {"field": "g", "type": "nominal", "sort": ["WT+NC", "WT+mimic", "Mut+NC", "Mut+mimic"], "scale": {"paddingInner": 0.35, "paddingOuter": 0.35}, "axis": {"title": null, "labelAngle": -90, "labelPadding": 5}}
    },
    "layer": [
      {"mark": {"type": "bar", "stroke": "#111", "strokeWidth": 1},
       "encoding": {
         "y": {"field": "m", "type": "quantitative", "scale": {"domain": [0, 1.5], "nice": false}, "axis": {"values": [0, 0.5, 1, 1.5], "format": ".1f", "title": "Relative luciferase activity", "titlePadding": 6}},
         "color": {"field": "g", "type": "nominal", "scale": {"domain": ["WT+NC", "WT+mimic", "Mut+NC", "Mut+mimic"], "range": ["#000000", "#5d6066", "#ea4a10", "#03291a"]}, "legend": null}
       }},
      {"mark": {"type": "rule", "color": "#111", "strokeWidth": 1},
       "encoding": {
         "y": {"field": "m", "type": "quantitative", "scale": {"domain": [0, 1.5], "nice": false}, "axis": {"values": [0, 0.5, 1, 1.5], "format": ".1f", "title": "Relative luciferase activity", "titlePadding": 6}},
         "y2": {"field": "e"}
       }},
      {"mark": {"type": "tick", "color": "#111", "size": 12, "thickness": 1},
       "encoding": {
         "y": {"field": "e", "type": "quantitative", "scale": {"domain": [0, 1.5], "nice": false}, "axis": {"values": [0, 0.5, 1, 1.5], "format": ".1f", "title": "Relative luciferase activity", "titlePadding": 6}}
       }},
      {"mark": {"type": "text", "fontSize": 8, "dy": -5, "color": "#222"},
       "encoding": {
         "y": {"field": "e", "type": "quantitative", "scale": {"domain": [0, 1.5], "nice": false}, "axis": {"values": [0, 0.5, 1, 1.5], "format": ".1f", "title": "Relative luciferase activity", "titlePadding": 6}},
         "text": {"field": "s"}
       }}
    ]
  },
  {"width": 1, "height": 1, "data": {"values": []}, "mark": "point", "encoding": {}},
  {"width": 1, "height": 1, "data": {"values": []}, "mark": "point", "encoding": {}},
  {"width": 1, "height": 1, "data": {"values": []}, "mark": "point", "encoding": {}},
  {"width": 1, "height": 1, "data": {"values": []}, "mark": "point", "encoding": {}},
  {"width": 1, "height": 1, "data": {"values": []}, "mark": "point", "encoding": {}},
  {"width": 1, "height": 1, "data": {"values": []}, "mark": "point", "encoding": {}},

  {"width": 1, "height": 202, "data": {"values": []}, "mark": "point", "encoding": {}},
  {
    "width": 152, "height": 110,
    "title": {"text": "NCI-H1650", "offset": 4},
    "data": {"name": "cn"},
    "encoding": {
      "x": {"field": "g", "type": "nominal", "sort": ["WT+NC", "WT+mimic", "Mut+NC", "Mut+mimic"], "scale": {"range": [1, 153], "paddingInner": 0.35, "paddingOuter": 0.35}, "axis": {"title": "(c)", "titleX": 51, "titleY": 64, "labelAngle": -90, "labelPadding": 5}}
    },
    "layer": [
      {"mark": {"type": "bar", "stroke": "#111", "strokeWidth": 1},
       "encoding": {
         "y": {"field": "m", "type": "quantitative", "scale": {"domain": [0, 1.5], "nice": false}, "axis": {"values": [0, 0.5, 1, 1.5], "format": ".1f", "title": "Relative luciferase activity", "titlePadding": 6}},
         "color": {"field": "g", "type": "nominal", "scale": {"domain": ["WT+NC", "WT+mimic", "Mut+NC", "Mut+mimic"], "range": ["#000000", "#5d6066", "#ea4a10", "#03291a"]}, "legend": null}
       }},
      {"mark": {"type": "rule", "color": "#111", "strokeWidth": 1},
       "encoding": {
         "y": {"field": "m", "type": "quantitative", "scale": {"domain": [0, 1.5], "nice": false}, "axis": {"values": [0, 0.5, 1, 1.5], "format": ".1f", "title": "Relative luciferase activity", "titlePadding": 6}},
         "y2": {"field": "e"}
       }},
      {"mark": {"type": "tick", "color": "#111", "size": 12, "thickness": 1},
       "encoding": {
         "y": {"field": "e", "type": "quantitative", "scale": {"domain": [0, 1.5], "nice": false}, "axis": {"values": [0, 0.5, 1, 1.5], "format": ".1f", "title": "Relative luciferase activity", "titlePadding": 6}}
       }},
      {"mark": {"type": "text", "fontSize": 8, "dy": -5, "color": "#222"},
       "encoding": {
         "y": {"field": "e", "type": "quantitative", "scale": {"domain": [0, 1.5], "nice": false}, "axis": {"values": [0, 0.5, 1, 1.5], "format": ".1f", "title": "Relative luciferase activity", "titlePadding": 6}},
         "text": {"field": "s"}
       }}
    ]
  },
  {"width": 1, "height": 1, "data": {"values": []}, "mark": "point", "encoding": {}},
  {"width": 1, "height": 1, "data": {"values": []}, "mark": "point", "encoding": {}},
  {
    "width": 32, "height": 110,
    "data": {"name": "dd"},
    "encoding": {
      "x": {"field": "g", "type": "nominal", "sort": ["BEAS-2B", "HCC827", "NCI-H1650"], "scale": {"range": [0, 105], "paddingInner": 0.33, "paddingOuter": 0.5}, "axis": {"title": "(d)", "titleX": 32, "titleY": 65, "labelAngle": -90, "labelPadding": 5}}
    },
    "layer": [
      {"mark": {"type": "bar", "stroke": "#111", "strokeWidth": 1},
       "encoding": {
         "y": {"field": "m", "type": "quantitative", "scale": {"domain": [0, 1.5], "nice": false}, "axis": {"values": [0, 0.5, 1, 1.5], "format": ".1f", "title": ["Relative levels of miR-524-5p", "(Fold change)"], "titlePadding": 4}},
         "color": {"field": "g", "type": "nominal", "scale": {"domain": ["BEAS-2B", "HCC827", "NCI-H1650"], "range": ["#000000", "#5d6066", "#5a1a0a"]}, "legend": null}
       }},
      {"mark": {"type": "rule", "color": "#111", "strokeWidth": 1},
       "encoding": {
         "y": {"field": "m", "type": "quantitative", "scale": {"domain": [0, 1.5], "nice": false}, "axis": {"values": [0, 0.5, 1, 1.5], "format": ".1f", "title": ["Relative levels of miR-524-5p", "(Fold change)"], "titlePadding": 4}},
         "y2": {"field": "e"}
       }},
      {"mark": {"type": "tick", "color": "#111", "size": 10, "thickness": 1},
       "encoding": {
         "y": {"field": "e", "type": "quantitative", "scale": {"domain": [0, 1.5], "nice": false}, "axis": {"values": [0, 0.5, 1, 1.5], "format": ".1f", "title": ["Relative levels of miR-524-5p", "(Fold change)"], "titlePadding": 4}}
       }},
      {"mark": {"type": "text", "fontSize": 8, "dy": -5, "color": "#222"},
       "encoding": {
         "y": {"field": "e", "type": "quantitative", "scale": {"domain": [0, 1.5], "nice": false}, "axis": {"values": [0, 0.5, 1, 1.5], "format": ".1f", "title": ["Relative levels of miR-524-5p", "(Fold change)"], "titlePadding": 4}},
         "text": {"field": "s"}
       }}
    ]
  },
  {"width": 1, "height": 1, "data": {"values": []}, "mark": "point", "encoding": {}},
  {"width": 1, "height": 1, "data": {"values": []}, "mark": "point", "encoding": {}},
  {"width": 1, "height": 1, "data": {"values": []}, "mark": "point", "encoding": {}},

  {"width": 1, "height": 1, "data": {"values": []}, "mark": "point", "encoding": {}},
  {
    "width": 118, "height": 114,
    "layer": [
      {"data": {"name": "ep"}, "mark": {"type": "point", "filled": true, "size": 14, "opacity": 1},
       "encoding": {
         "x": {"field": "g", "type": "nominal", "sort": ["Normal", "Tumor"], "scale": {"range": [2, 118], "paddingInner": 0.245, "paddingOuter": 0.226}, "axis": {"title": "(e)", "titleX": 34, "titleY": 28, "labelAngle": 0, "labelFontSize": 10.5, "labelPadding": 6}},
         "xOffset": {"field": "k", "type": "ordinal", "scale": {"domain": [-4, -3, -2, -1, 0, 1, 2, 3, 4], "paddingInner": 0, "paddingOuter": 0}},
         "y": {"field": "v", "type": "quantitative", "scale": {"domain": [0, 2], "range": [114, 10], "nice": false}, "axis": {"values": [0, 0.5, 1, 1.5, 2], "format": ".1f", "title": ["Relative levels of miR-524-5p", "(Fold change)"], "titlePadding": 4}},
         "color": {"field": "g", "type": "nominal", "scale": {"domain": ["Normal", "Tumor"], "range": ["#7a2a0c", "#a3223c"]}, "legend": null},
         "shape": {"field": "g", "type": "nominal", "scale": {"domain": ["Normal", "Tumor"], "range": ["circle", "triangle-up"]}, "legend": null}
       }},
      {"data": {"name": "es"}, "mark": {"type": "rule", "strokeWidth": 1},
       "encoding": {
         "x": {"field": "g", "type": "nominal", "sort": ["Normal", "Tumor"], "scale": {"range": [2, 118], "paddingInner": 0.245, "paddingOuter": 0.226}, "axis": {"title": "(e)", "titleX": 34, "titleY": 28, "labelAngle": 0, "labelFontSize": 10.5, "labelPadding": 6}},
         "y": {"field": "lo", "type": "quantitative", "scale": {"domain": [0, 2], "range": [114, 10], "nice": false}, "axis": {"values": [0, 0.5, 1, 1.5, 2], "format": ".1f", "title": ["Relative levels of miR-524-5p", "(Fold change)"], "titlePadding": 4}},
         "y2": {"field": "hi"},
         "color": {"field": "g", "type": "nominal", "scale": {"domain": ["Normal", "Tumor"], "range": ["#7a2a0c", "#a3223c"]}, "legend": null}
       }},
      {"data": {"name": "es"}, "mark": {"type": "tick", "size": 26, "thickness": 1.2},
       "encoding": {
         "x": {"field": "g", "type": "nominal", "sort": ["Normal", "Tumor"], "scale": {"range": [2, 118], "paddingInner": 0.245, "paddingOuter": 0.226}, "axis": {"title": "(e)", "titleX": 34, "titleY": 28, "labelAngle": 0, "labelFontSize": 10.5, "labelPadding": 6}},
         "y": {"field": "m", "type": "quantitative", "scale": {"domain": [0, 2], "range": [114, 10], "nice": false}, "axis": {"values": [0, 0.5, 1, 1.5, 2], "format": ".1f", "title": ["Relative levels of miR-524-5p", "(Fold change)"], "titlePadding": 4}},
         "color": {"field": "g", "type": "nominal", "scale": {"domain": ["Normal", "Tumor"], "range": ["#7a2a0c", "#a3223c"]}, "legend": null}
       }},
      {"data": {"name": "es"}, "mark": {"type": "tick", "size": 12, "thickness": 1},
       "encoding": {
         "x": {"field": "g", "type": "nominal", "sort": ["Normal", "Tumor"], "scale": {"range": [2, 118], "paddingInner": 0.245, "paddingOuter": 0.226}, "axis": {"title": "(e)", "titleX": 34, "titleY": 28, "labelAngle": 0, "labelFontSize": 10.5, "labelPadding": 6}},
         "y": {"field": "lo", "type": "quantitative", "scale": {"domain": [0, 2], "range": [114, 10], "nice": false}, "axis": {"values": [0, 0.5, 1, 1.5, 2], "format": ".1f", "title": ["Relative levels of miR-524-5p", "(Fold change)"], "titlePadding": 4}},
         "color": {"field": "g", "type": "nominal", "scale": {"domain": ["Normal", "Tumor"], "range": ["#7a2a0c", "#a3223c"]}, "legend": null}
       }},
      {"data": {"name": "es"}, "mark": {"type": "tick", "size": 12, "thickness": 1},
       "encoding": {
         "x": {"field": "g", "type": "nominal", "sort": ["Normal", "Tumor"], "scale": {"range": [2, 118], "paddingInner": 0.245, "paddingOuter": 0.226}, "axis": {"title": "(e)", "titleX": 34, "titleY": 28, "labelAngle": 0, "labelFontSize": 10.5, "labelPadding": 6}},
         "y": {"field": "hi", "type": "quantitative", "scale": {"domain": [0, 2], "range": [114, 10], "nice": false}, "axis": {"values": [0, 0.5, 1, 1.5, 2], "format": ".1f", "title": ["Relative levels of miR-524-5p", "(Fold change)"], "titlePadding": 4}},
         "color": {"field": "g", "type": "nominal", "scale": {"domain": ["Normal", "Tumor"], "range": ["#7a2a0c", "#a3223c"]}, "legend": null}
       }},
      {"data": {"name": "esig"}, "mark": {"type": "rule", "color": "#222", "strokeWidth": 1},
       "encoding": {
         "x": {"field": "a", "type": "nominal", "sort": ["Normal", "Tumor"], "scale": {"range": [2, 118], "paddingInner": 0.245, "paddingOuter": 0.226}, "axis": {"title": "(e)", "titleX": 34, "titleY": 28, "labelAngle": 0, "labelFontSize": 10.5, "labelPadding": 6}},
         "x2": {"field": "b"},
         "y": {"field": "y", "type": "quantitative", "scale": {"domain": [0, 2], "range": [114, 10], "nice": false}, "axis": {"values": [0, 0.5, 1, 1.5, 2], "format": ".1f", "title": ["Relative levels of miR-524-5p", "(Fold change)"], "titlePadding": 4}}
       }},
      {"data": {"name": "esig"}, "mark": {"type": "text", "fontSize": 8, "dx": 26, "color": "#222"},
       "encoding": {
         "x": {"field": "a", "type": "nominal", "sort": ["Normal", "Tumor"], "scale": {"range": [2, 118], "paddingInner": 0.245, "paddingOuter": 0.226}, "axis": {"title": "(e)", "titleX": 34, "titleY": 28, "labelAngle": 0, "labelFontSize": 10.5, "labelPadding": 6}},
         "y": {"field": "ty", "type": "quantitative", "scale": {"domain": [0, 2], "range": [114, 10], "nice": false}, "axis": {"values": [0, 0.5, 1, 1.5, 2], "format": ".1f", "title": ["Relative levels of miR-524-5p", "(Fold change)"], "titlePadding": 4}},
         "text": {"field": "t"}
       }}
    ]
  },
  {"width": 1, "height": 1, "data": {"values": []}, "mark": "point", "encoding": {}},
  {
    "width": 38, "height": 99,
    "title": {"text": "(f)", "orient": "bottom", "offset": 6, "dx": 37, "fontSize": 10},
    "layer": [
      {"data": {"name": "fp"}, "mark": {"type": "point", "filled": true, "size": 11, "color": "#000", "opacity": 1},
       "encoding": {
         "x": {"field": "x", "type": "quantitative", "scale": {"domain": [0, 4], "range": [0, 150], "nice": false}, "axis": {"values": [0, 1, 2, 3, 4], "title": "Relative levels of EGFR-AS1", "titlePadding": 6}},
         "y": {"field": "y", "type": "quantitative", "scale": {"domain": [0, 1.5], "nice": false}, "axis": {"values": [0, 0.5, 1, 1.5], "format": ".1f", "title": "Relative levels of miR-524-5p", "titlePadding": 6}}
       }},
      {"data": {"name": "fl"}, "mark": {"type": "line", "color": "#111", "strokeWidth": 1},
       "encoding": {
         "x": {"field": "x", "type": "quantitative", "scale": {"domain": [0, 4], "range": [0, 150], "nice": false}, "axis": {"values": [0, 1, 2, 3, 4], "title": "Relative levels of EGFR-AS1", "titlePadding": 6}},
         "y": {"field": "y", "type": "quantitative", "scale": {"domain": [0, 1.5], "nice": false}, "axis": {"values": [0, 0.5, 1, 1.5], "format": ".1f", "title": "Relative levels of miR-524-5p", "titlePadding": 6}}
       }},
      {"data": {"name": "ft"}, "mark": {"type": "text", "fontSize": 9.5, "align": "left", "baseline": "middle", "color": "#222"},
       "encoding": {
         "x": {"field": "x", "type": "quantitative", "scale": {"domain": [0, 4], "range": [0, 150], "nice": false}, "axis": {"values": [0, 1, 2, 3, 4], "title": "Relative levels of EGFR-AS1", "titlePadding": 6}},
         "y": {"field": "y", "type": "quantitative", "scale": {"domain": [0, 1.5], "nice": false}, "axis": {"values": [0, 0.5, 1, 1.5], "format": ".1f", "title": "Relative levels of miR-524-5p", "titlePadding": 6}},
         "text": {"field": "t"},
         "fontStyle": {"field": "i", "type": "nominal", "scale": {"domain": ["n", "i"], "range": ["normal", "italic"]}, "legend": null}
       }}
    ]
  },
  {"width": 1, "height": 1, "data": {"values": []}, "mark": "point", "encoding": {}},
  {"width": 1, "height": 1, "data": {"values": []}, "mark": "point", "encoding": {}},
  {"width": 1, "height": 1, "data": {"values": []}, "mark": "point", "encoding": {}},
  {"width": 1, "height": 1, "data": {"values": []}, "mark": "point", "encoding": {}}
]
}
